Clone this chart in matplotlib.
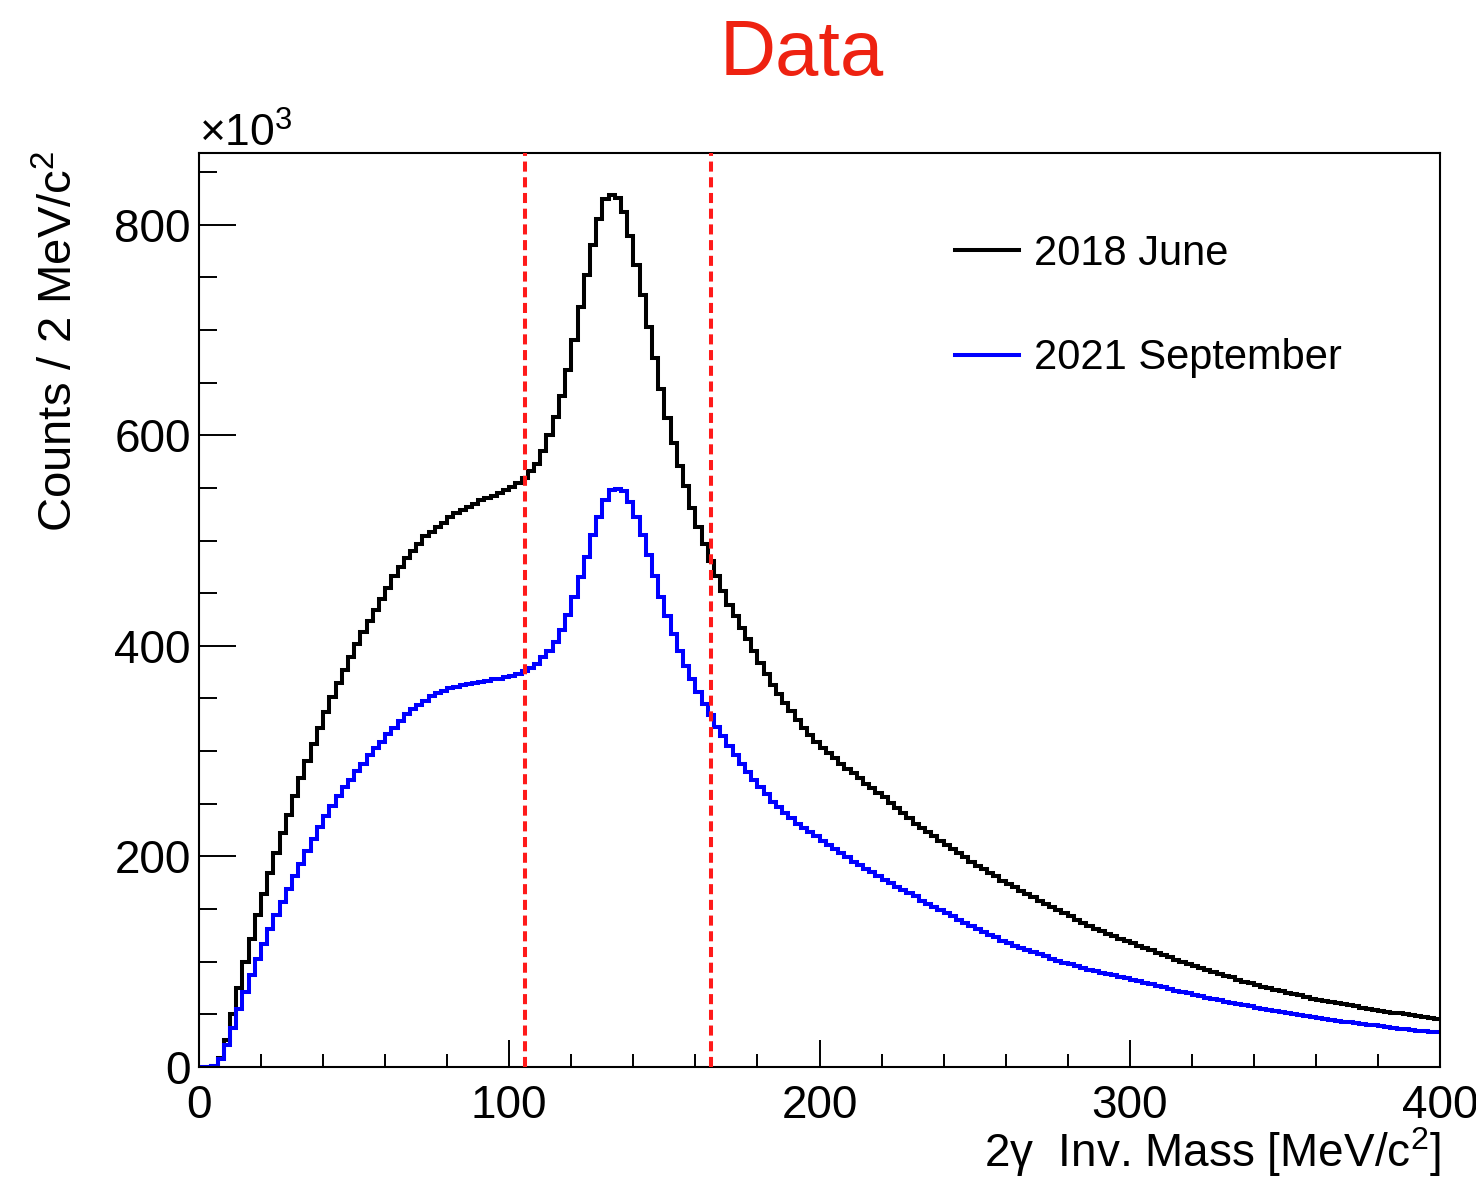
import numpy as np
import matplotlib
matplotlib.use("Agg")
from matplotlib import pyplot

pyplot.rcParams['font.family'] = ['Liberation Sans', 'DejaVu Sans']
pyplot.rcParams['mathtext.fontset'] = 'custom'
pyplot.rcParams['mathtext.rm'] = 'Liberation Sans'
pyplot.rcParams['mathtext.it'] = 'Liberation Sans:italic'

# 2 MeV bins from 0 to 400 MeV/c^2, counts in units of 10^3
bin_edges = np.arange(0, 402, 2)

june_2018 = [
    0, 0, 1, 9, 26, 50, 75, 100, 122, 144,
    164, 184, 203, 222, 239, 257, 274, 291, 307, 322,
    337, 351, 365, 377, 389, 402, 413, 424, 434, 444,
    455, 466, 475, 483, 490, 497, 504, 508, 513, 517,
    522, 526, 529, 532, 535, 538, 540, 542, 545, 548,
    551, 555, 559, 566, 573, 585, 600, 617, 637, 662,
    690, 722, 752, 781, 805, 824, 828, 825, 812, 789,
    762, 733, 703, 673, 644, 616, 593, 571, 552, 531,
    513, 497, 481, 466, 452, 439, 428, 417, 406, 395,
    384, 373, 363, 354, 346, 338, 330, 322, 315, 309,
    303, 298, 293, 288, 283, 279, 274, 269, 265, 260,
    256, 251, 246, 241, 236, 231, 227, 223, 219, 215,
    211, 207, 203, 199, 195, 191, 188, 184, 181, 177,
    174, 171, 167, 164, 161, 158, 155, 152, 149, 146,
    143, 140, 137, 134, 131, 129, 126, 124, 122, 120,
    118, 115, 113, 111, 108, 106, 104, 102, 100, 98,
    96, 94, 92, 90, 88, 86, 85, 83, 81, 79.5,
    78, 76, 75, 73.5, 72, 70.5, 69, 68, 66.5, 65,
    64, 63, 62, 60.5, 59.5, 58.5, 57.5, 56.5, 55.5, 54.5,
    53.5, 52.5, 51.5, 51, 50, 49, 48.5, 47.5, 46.5, 46,
]

september_2021 = [
    0, 0, 1, 8, 21, 37, 55, 71, 87, 103,
    117, 131, 144, 157, 169, 181, 193, 205, 217, 228,
    238, 248, 257, 266, 273, 281, 288, 296, 303, 309,
    316, 322, 329, 335, 340, 344, 348, 352, 355, 357,
    360, 361, 363, 364, 365, 366, 367, 368, 368, 370,
    371, 373, 376, 379, 383, 389, 395, 404, 415, 429,
    446, 465, 484, 505, 522, 538, 548, 549, 547, 537,
    522, 505, 486, 466, 446, 428, 411, 395, 381, 368,
    356, 345, 334, 323, 314, 305, 296, 288, 280, 273,
    266, 259, 252, 247, 241, 236, 231, 227, 223, 219,
    215, 211, 207, 203, 199, 195, 192, 188, 185, 181,
    178, 175, 171, 168, 165, 162, 158, 155, 152, 149,
    146, 143, 140, 137, 134, 131, 128, 125, 123, 120,
    118, 115, 113, 111, 109, 107, 105, 103, 101, 99,
    97.5, 96, 94, 92.5, 91, 89.5, 88, 87, 85.5, 84.5,
    83, 81.5, 80, 78.5, 77, 75.5, 74, 72.5, 71, 70,
    68.5, 67, 66, 64.5, 63.5, 62, 61, 60, 59, 57.5,
    56.5, 55.5, 54.5, 53.5, 52.5, 51.5, 50.5, 49.5, 48.5, 47.5,
    46.5, 45.5, 44.5, 44, 43, 42.5, 41.5, 41, 40, 39.5,
    38.5, 38, 37.5, 36.5, 36, 35.5, 34.5, 34, 33.5, 33,
]

cut_lines = [105, 165]
labels = ['2018 June', '2021 September']


if __name__ == '__main__':
    W, H = 1476, 1178
    fig = pyplot.figure(figsize=(W / 100, H / 100), dpi=100)
    left, right, top, bottom = 199, 1440, 153, 1067
    ax = fig.add_axes([left / W, 1 - bottom / H, (right - left) / W, (bottom - top) / H])

    # baseline=None: no vertical drop to zero at the histogram ends
    ax.stairs(june_2018, bin_edges, baseline=None, color='black', linewidth=2.9, label=labels[0])
    ax.stairs(september_2021, bin_edges, baseline=None, color='#0000ff', linewidth=2.9, label=labels[1])
    for xc in cut_lines:
        ax.axvline(xc, color='#ff1a1a', linewidth=2.9, linestyle=(0, (2.5, 1.4)), zorder=5)

    ax.set_xlim(0, 400)
    ax.set_ylim(0, 868)
    ax.set_xticks([0, 100, 200, 300, 400])
    ax.set_xticks(np.arange(0, 401, 20), minor=True)
    ax.set_yticks([0, 200, 400, 600, 800])
    ax.set_yticks(np.arange(0, 868, 50), minor=True)

    ax.tick_params(axis='both', which='both', direction='in', width=1.4,
                   top=False, right=False, labelsize=33)
    ax.tick_params(axis='x', which='major', length=19.4, pad=12)
    ax.tick_params(axis='x', which='minor', length=9.7)
    ax.tick_params(axis='y', which='major', length=26.6, pad=6)
    ax.tick_params(axis='y', which='minor', length=13.3)
    for sp in ax.spines.values():
        sp.set_linewidth(1.5)

    ax.legend(loc='upper left',
              bbox_to_anchor=((938 - left) / (right - left), 1 - (217 - top) / (bottom - top)),
              frameon=False, fontsize=30, handlelength=1.55, handletextpad=0.35,
              labelspacing=1.55, borderaxespad=0)

    fig.text(802 / W, 1 - 75 / H, 'Data', color='#ee2211', fontsize=56, ha='center', va='baseline')
    fig.text(199 / W, 1 - 147 / H, r'$\times$10$^{3}$', fontsize=32, ha='left', va='baseline')
    fig.text(60 / W, 1 - 151 / H, r'Counts / 2 MeV/c$^{2}$', fontsize=34, rotation=90,
             ha='center', va='top')
    fig.text(1441 / W, 1 - 1167 / H, '2γ  Inv. Mass [MeV/c$^{2}$]', fontsize=33,
             ha='right', va='baseline')

    fig.savefig('out.png', dpi=100)
